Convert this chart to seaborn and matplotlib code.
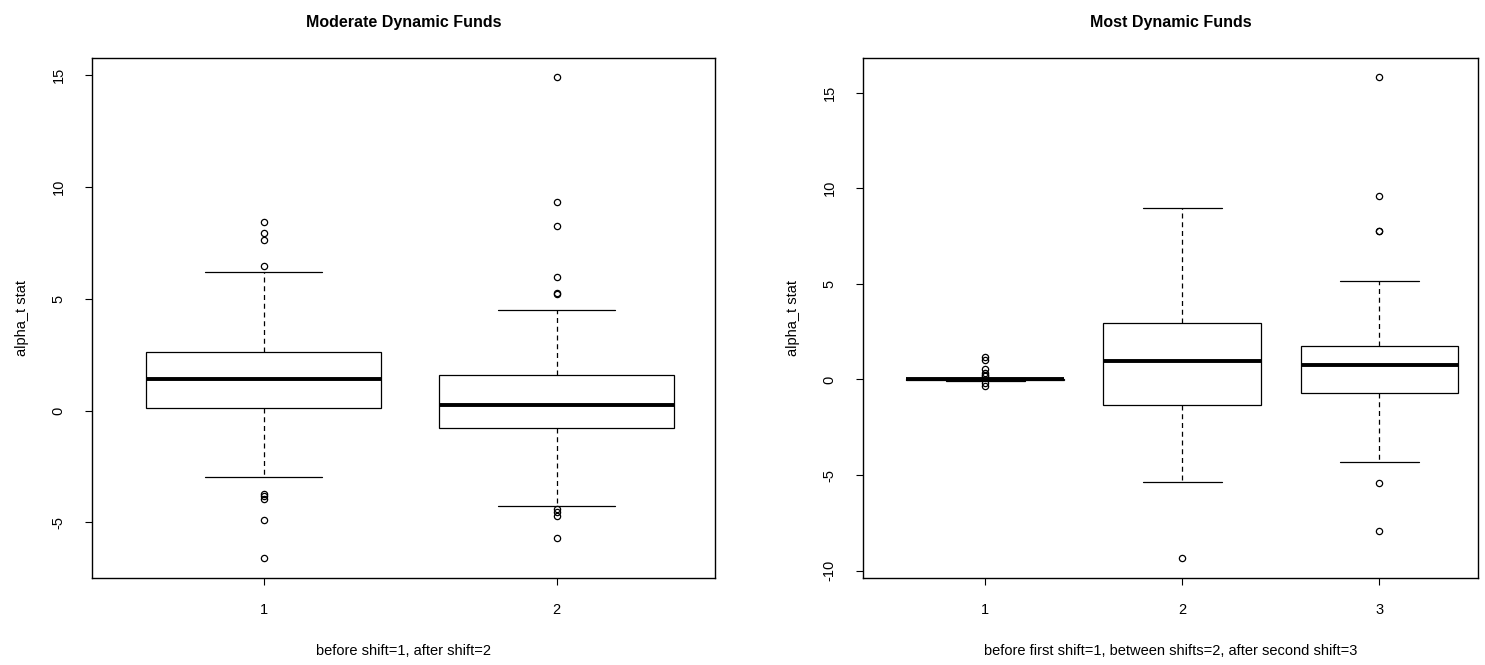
import pandas as pd
import matplotlib
matplotlib.use("Agg")
import matplotlib.pyplot as plt
import seaborn as sns

# --- box summaries (R-style boxplots) ---
# Moderate Dynamic Funds
mod_groups = ["1", "2"]
mod_q1 = [0.10, -0.79]
mod_median = [1.39, 0.25]
mod_q3 = [2.61, 1.58]
mod_whisker_lo = [-2.97, -4.29]
mod_whisker_hi = [6.22, 4.52]
mod_out_lo = [[-3.72, -3.82, -3.95, -4.91, -6.62],
              [-4.40, -4.55, -4.70, -5.72]]
mod_out_hi = [[6.46, 7.62, 7.93, 8.43],
              [5.20, 5.28, 5.97, 8.25, 9.33, 14.93]]

# Most Dynamic Funds
most_groups = ["1", "2", "3"]
most_q1 = [-0.03, -1.33, -0.71]
most_median = [0.00, 0.99, 0.73]
most_q3 = [0.04, 2.93, 1.76]
most_whisker_lo = [-0.08, -5.38, -4.32]
most_whisker_hi = [0.10, 8.96, 5.16]
most_out_lo = [[-0.20, -0.35],
               [-9.36],
               [-5.43, -7.91]]
most_out_hi = [[0.18, 0.25, 0.35, 0.57, 1.02, 1.15],
               [],
               [7.76, 7.76, 9.58, 15.82]]


def box_table(groups, q1, med, q3, wlo, whi, out_lo, out_hi):
    # build a long table whose quartiles / whiskers / fliers reproduce the summaries
    rows = []
    for i, g in enumerate(groups):
        below = sorted(out_lo[i]) + [wlo[i]]
        above = [whi[i]] + sorted(out_hi[i])
        k = max(len(below), len(above))
        vals = (below + [wlo[i]] * (k - len(below)) + [q1[i]] * k + [med[i]] * k
                + [q3[i]] + [q3[i]] * (k - len(above)) + above)
        rows += [(g, v) for v in vals]
    return pd.DataFrame(rows, columns=["group", "alpha_t stat"])


mod_df = box_table(mod_groups, mod_q1, mod_median, mod_q3,
                   mod_whisker_lo, mod_whisker_hi, mod_out_lo, mod_out_hi)
most_df = box_table(most_groups, most_q1, most_median, most_q3,
                    most_whisker_lo, most_whisker_hi, most_out_lo, most_out_hi)

sns.set_style("ticks")
plt.rcParams['font.family'] = ['Liberation Sans', 'DejaVu Sans']
plt.rcParams['axes.edgecolor'] = 'black'
plt.rcParams['axes.linewidth'] = 1.0
plt.rcParams['text.color'] = 'black'
plt.rcParams['axes.labelcolor'] = 'black'

fig = plt.figure(figsize=(14.85, 6.65), dpi=100)
ax1 = fig.add_axes([92 / 1485, 1 - 577.7 / 665, (715 - 92) / 1485, 520 / 665])
ax2 = fig.add_axes([863 / 1485, 1 - 577.7 / 665, (1478 - 863) / 1485, 520 / 665])

box_kw = dict(
    x="group", y="alpha_t stat", color="white", linecolor="black",
    linewidth=0.9, width=0.8, whis=1.5,
    flierprops=dict(marker="o", markersize=4.5, markerfacecolor="none",
                    markeredgecolor="black", markeredgewidth=0.9),
    medianprops=dict(linewidth=2.8, color="black"),
    whiskerprops=dict(linestyle=(0, (4, 3)), linewidth=0.9),
    capprops=dict(linewidth=0.9),
    boxprops=dict(facecolor="white", edgecolor="black"),
)

sns.boxplot(data=mod_df, order=mod_groups, ax=ax1, **box_kw)
sns.boxplot(data=most_df, order=most_groups, ax=ax2, **box_kw)

panels = [
    (ax1, "Moderate Dynamic Funds", "before shift=1, after shift=2",
     (-0.585, 1.54), (-7.48, 15.79), [-5, 0, 5, 10, 15]),
    (ax2, "Most Dynamic Funds",
     "before first shift=1, between shifts=2, after second shift=3",
     (-0.62, 2.5), (-10.37, 16.83), [-10, -5, 0, 5, 10, 15]),
]
for ax, title, xlab, xlim, ylim, yticks in panels:
    ax.set_xlim(*xlim)
    ax.set_ylim(*ylim)
    ax.set_yticks(yticks)
    ax.set_yticklabels([str(t) for t in yticks], rotation=90, va="center")
    ax.set_title(title, fontsize=11.5, fontweight="bold", pad=22, color="black")
    ax.set_xlabel(xlab, fontsize=10.5, labelpad=20)
    ax.set_ylabel("alpha_t stat", fontsize=10.5, labelpad=16)
    ax.tick_params(axis="both", direction="out", length=5, width=0.8,
                   labelsize=10.5, colors="black")
    ax.tick_params(axis="x", pad=13)
    ax.tick_params(axis="y", pad=14)
    for s in ax.spines.values():
        s.set_visible(True)
        s.set_color("black")
    ax.grid(False)

fig.savefig("out.png", dpi=100, facecolor="white")
